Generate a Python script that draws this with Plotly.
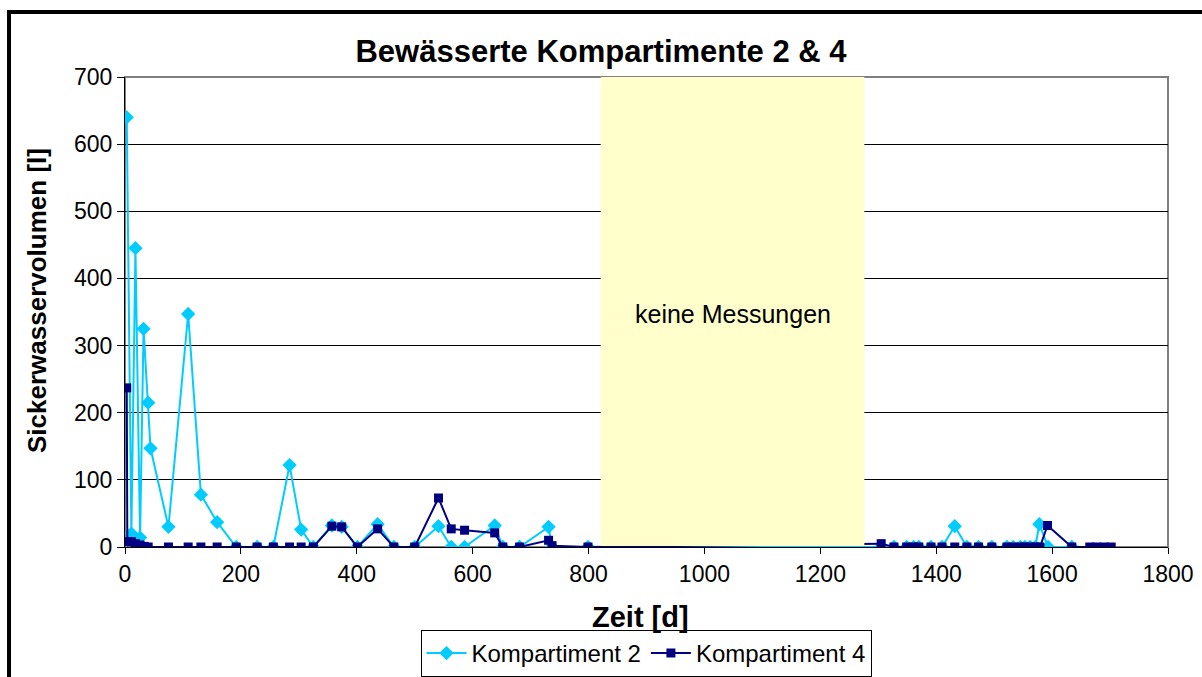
import plotly.graph_objects as go

# Kompartiment 2 (days, litres)
k2_x = [3, 11, 18, 26, 32, 40, 44, 75, 109, 131, 159, 192, 228, 256, 284, 304, 325,
        357, 374, 401, 436, 464, 500, 541, 563, 586, 638, 652, 681, 731, 737, 799,
        1305, 1327, 1349, 1361, 1370, 1391, 1410, 1432, 1453, 1473, 1496, 1522, 1533,
        1545, 1553, 1562, 1571, 1578, 1593, 1634]
k2_y = [640, 20, 445, 14, 325, 215, 147, 30, 347, 78, 37, 0, 0, 0, 122, 26, 0,
        32, 30, 0, 34, 0, 0, 31, 0, 0, 32, 0, 0, 30, 0, 0,
        0, 0, 0, 0, 0, 0, 0, 31, 0, 0, 0, 0, 0,
        0, 0, 0, 0, 34, 0, 0]

# Kompartiment 4 (days, litres)
k4_x = [3, 4, 11, 18, 26, 33, 40, 75, 109, 131, 159, 192, 228, 256, 284, 304, 325,
        357, 374, 401, 436, 464, 500, 541, 563, 586, 638, 652, 681, 731, 737, 799,
        1305, 1327, 1349, 1361, 1370, 1391, 1410, 1432, 1453, 1473, 1496, 1522, 1533,
        1545, 1553, 1562, 1571, 1579, 1592, 1634, 1665, 1677, 1690, 1702]
k4_y = [237, 8, 8, 5, 3, 1, 0, 0, 0, 0, 0, 0, 0, 0, 0, 0, 0,
        31, 30, 0, 27, 0, 0, 73, 27, 25, 21, 0, 0, 10, 2, 0,
        5, 0, 0, 0, 0, 0, 0, 0, 0, 0, 0, 0, 0,
        0, 0, 0, 0, 0, 32, 0, 0, 0, 0, 0]

gap_start, gap_end = 821, 1276
gap_label = "keine Messungen"

FONT = "Liberation Sans, Arial, sans-serif"

fig = go.Figure()
fig.add_trace(go.Scatter(x=k2_x, y=k2_y, mode="lines+markers", name="Kompartiment 2",
                         line=dict(color="#00CCFF", width=2),
                         marker=dict(symbol="diamond", size=11, color="#00CCFF")))
fig.add_trace(go.Scatter(x=k4_x, y=k4_y, mode="lines+markers", name="Kompartiment 4",
                         line=dict(color="#000080", width=2),
                         marker=dict(symbol="square", size=9, color="#000080")))

# plot area frame (grey)
fig.add_shape(type="rect", xref="paper", yref="paper", x0=0, x1=1, y0=0, y1=1,
              line=dict(color="#808080", width=2), layer="below")
# no-measurement zone
fig.add_shape(type="rect", xref="x", yref="y", x0=gap_start, x1=gap_end, y0=1.5, y1=700,
              fillcolor="#FFFFCC", line=dict(width=0), layer="above")
fig.add_annotation(x=(gap_start + gap_end) / 2, y=347, text=gap_label, showarrow=False,
                   xanchor="center", yanchor="middle",
                   font=dict(family=FONT, size=25, color="black"))
# outer chart frame
fig.add_shape(type="rect", xref="paper", yref="paper", x0=-0.1112, x1=1.045,
              y0=-0.31, y1=1.1383, line=dict(color="black", width=4), layer="above")

# axis titles
fig.add_annotation(xref="paper", yref="paper", x=(640 - 125) / 1043, y=(547 - 617) / 470,
                   xanchor="center", yanchor="middle",
                   text="<b>Zeit [d]</b>", showarrow=False,
                   font=dict(family=FONT, size=29, color="black"))
fig.add_annotation(xref="paper", yref="paper", x=(37 - 125) / 1043, y=(547 - 301) / 470,
                   xanchor="center", yanchor="middle",
                   text="<b>Sickerwasservolumen [l]</b>", showarrow=False, textangle=-90,
                   font=dict(family=FONT, size=26, color="black"))

fig.update_layout(
    width=1202, height=677,
    margin=dict(l=125, r=34, t=77, b=130, autoexpand=False),
    paper_bgcolor="white", plot_bgcolor="white",
    font=dict(family=FONT, size=23, color="black"),
    title=dict(text="<b>Bewässerte Kompartimente 2 & 4</b>", x=0.5, xanchor="center",
               y=1 - 51 / 677, yanchor="middle", font=dict(family=FONT, size=31, color="black")),
    showlegend=True,
    legend=dict(orientation="h", x=(646 - 125) / 1043, xanchor="center", y=(547 - 677) / 470,
                yanchor="bottom", bordercolor="black", borderwidth=1, bgcolor="white",
                font=dict(family=FONT, size=24, color="black"), itemwidth=40),
)
fig.update_xaxes(range=[0, 1800], tickvals=list(range(0, 1801, 200)),
                 showgrid=False, zeroline=False, showline=True, linecolor="black", linewidth=1,
                 ticks="outside", ticklen=6, tickcolor="black")
fig.update_yaxes(range=[0, 700], tickvals=list(range(0, 701, 100)),
                 showgrid=True, gridcolor="black", gridwidth=1, zeroline=False,
                 showline=True, linecolor="black", linewidth=1,
                 ticks="outside", ticklen=7, tickcolor="black")

fig.write_html("out.html", config={"displayModeBar": False},
               post_script="document.body.style.margin='0';")
